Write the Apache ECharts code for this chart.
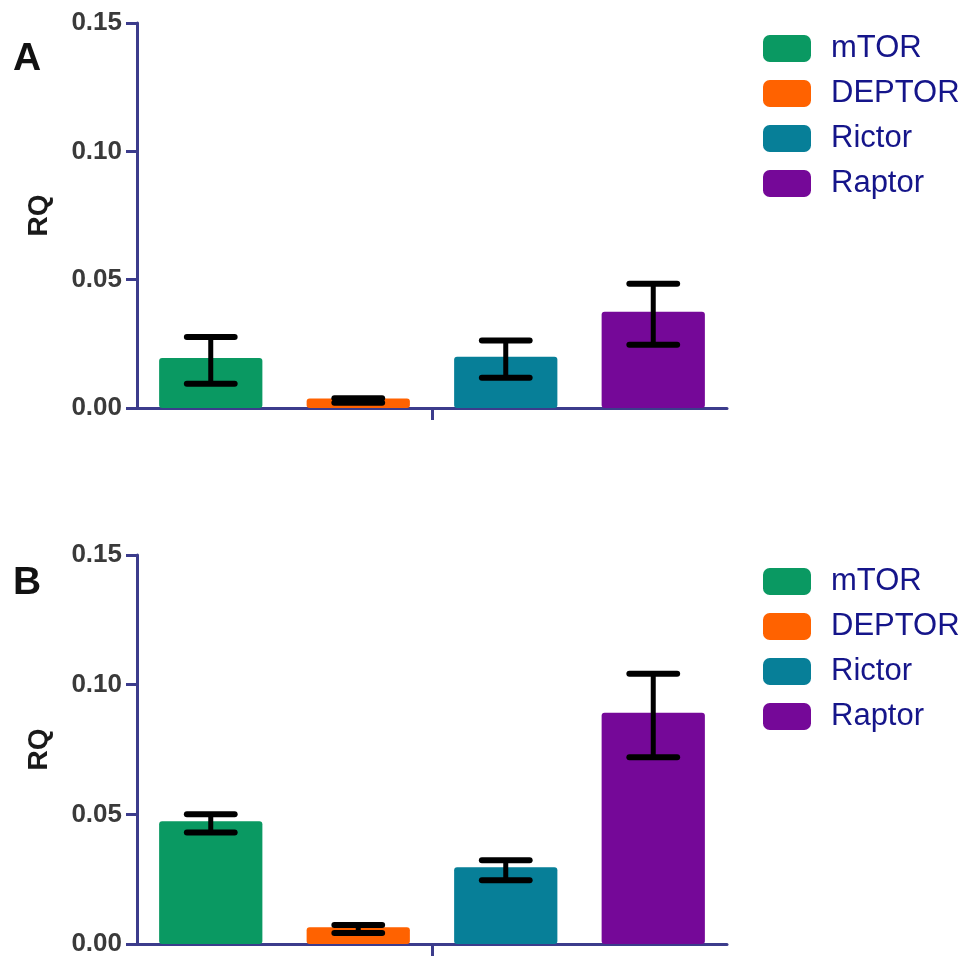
<!DOCTYPE html>
<html>
<head>
<meta charset="utf-8">
<script src="https://cdn.jsdelivr.net/npm/echarts@6/dist/echarts.min.js"></script>
<style>
html,body{margin:0;padding:0;background:#fff;}
#chart{width:965px;height:957px;}
</style>
</head>
<body>
<div id="chart"></div>
<script>
// ---- Data ----
var categories = ['mTOR', 'DEPTOR', 'Rictor', 'Raptor'];
var panelLabels = ['A', 'B'];
var yTicks = [0, 0.05, 0.10, 0.15];

var meanA = [0.0195, 0.0037, 0.0200, 0.0375];
var lowA  = [0.0094, 0.0020, 0.0118, 0.0246];
var highA = [0.0277, 0.0038, 0.0263, 0.0484];

var meanB = [0.0473, 0.0065, 0.0296, 0.0892];
var lowB  = [0.0430, 0.0042, 0.0246, 0.0720];
var highB = [0.0500, 0.0073, 0.0323, 0.1042];

var colors = ['#0a9962', '#ff6200', '#077f98', '#750898'];

// ---- Styles ----
var axisColor = '#3c3c8c';
var fontFam = '"Liberation Sans", Arial, sans-serif';

var panels = [
  { mean: meanA, low: lowA, high: highA, top: 23, height: 385, legendTop: 28, titleTop: 35 },
  { mean: meanB, low: lowB, high: highB, top: 555, height: 390, legendTop: 561, titleTop: 559 }
];

var grids = [], xAxes = [], yAxes = [], series = [], legends = [], titles = [];

panels.forEach(function (p, pi) {
  grids.push({ left: 137, width: 590, top: p.top, height: p.height });
  xAxes.push({
    type: 'category', gridIndex: pi, data: categories,
    axisLine: { show: true, lineStyle: { color: axisColor, width: 3 } },
    axisTick: { show: false }, axisLabel: { show: false }
  });
  xAxes.push({
    type: 'category', gridIndex: pi, data: [''], position: 'bottom',
    axisLine: { show: false },
    axisTick: { show: true, alignWithLabel: true, length: 12, lineStyle: { color: axisColor, width: 3 } },
    axisLabel: { show: false }
  });
  yAxes.push({
    type: 'value', gridIndex: pi, min: yTicks[0], max: yTicks[yTicks.length - 1], interval: 0.05,
    name: 'RQ', nameLocation: 'middle', nameGap: 84,
    nameTextStyle: { fontFamily: fontFam, fontWeight: 'bold', fontSize: 28, color: '#1a1a1a' },
    axisLine: { show: true, lineStyle: { color: axisColor, width: 3 } },
    axisTick: { show: true, length: 11, lineStyle: { color: axisColor, width: 3 } },
    axisLabel: {
      fontFamily: fontFam, fontWeight: 'bold', fontSize: 26, color: '#3a3a3a', margin: 15,
      formatter: function (v) { return v.toFixed(2); }
    },
    splitLine: { show: false }
  });

  categories.forEach(function (name, ci) {
    var d = categories.map(function (_, k) { return k === ci ? p.mean[k] : '-'; });
    series.push({
      type: 'bar', name: name, xAxisIndex: pi * 2, yAxisIndex: pi,
      data: d, barWidth: '70%', barGap: '-100%',
      itemStyle: { color: colors[ci], borderRadius: 3 },
      silent: true, animation: false
    });
  });

  var errData = categories.map(function (_, k) { return [k, p.low[k], p.high[k]]; });
  series.push({
    type: 'custom', name: 'err' + pi, xAxisIndex: pi * 2, yAxisIndex: pi,
    data: errData, z: 10, animation: false, silent: true,
    renderItem: function (params, api) {
      var x = api.value(0);
      var lo = api.coord([x, api.value(1)]);
      var hi = api.coord([x, api.value(2)]);
      var half = api.size([1, 0])[0] * 0.162;
      var st = { stroke: '#000', lineWidth: 6, lineCap: 'round' };
      return {
        type: 'group',
        children: [
          { type: 'line', shape: { x1: lo[0], y1: lo[1], x2: hi[0], y2: hi[1] }, style: { stroke: '#000', lineWidth: 5 } },
          { type: 'line', shape: { x1: lo[0] - half, y1: lo[1], x2: lo[0] + half, y2: lo[1] }, style: st },
          { type: 'line', shape: { x1: hi[0] - half, y1: hi[1], x2: hi[0] + half, y2: hi[1] }, style: st }
        ]
      };
    }
  });

  legends.push({
    orient: 'vertical', left: 758, top: p.legendTop,
    data: categories, icon: 'roundRect',
    itemWidth: 48, itemHeight: 27, itemGap: 14,
    selectedMode: false,
    textStyle: { fontFamily: fontFam, fontSize: 31, color: '#15158a', padding: [0, 0, 0, 15] }
  });

  titles.push({
    text: panelLabels[pi], left: 8, top: p.titleTop,
    textStyle: { fontFamily: fontFam, fontWeight: 'bold', fontSize: 39, color: '#111' }
  });
});

var chart = echarts.init(document.getElementById('chart'), null, { renderer: 'canvas' });
chart.setOption({
  backgroundColor: '#ffffff',
  animation: false,
  title: titles,
  legend: legends,
  grid: grids,
  xAxis: xAxes,
  yAxis: yAxes,
  series: series
});
</script>
</body>
</html>
